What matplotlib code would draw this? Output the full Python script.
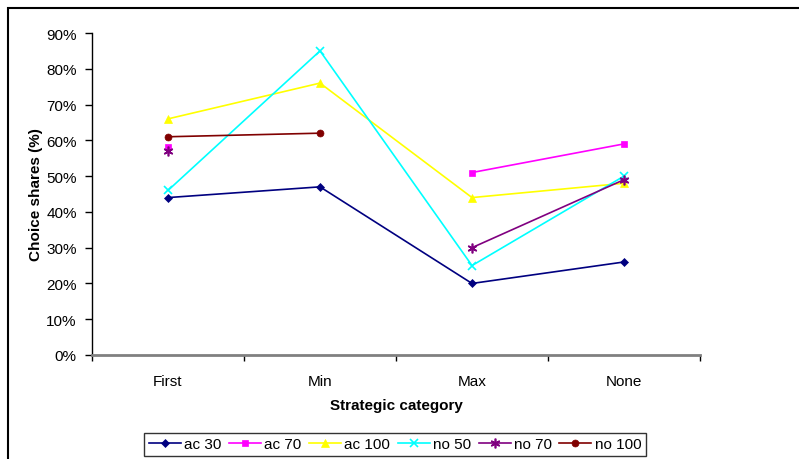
import numpy as np
import matplotlib
matplotlib.use("Agg")
import matplotlib.pyplot as plt
from matplotlib.patches import Rectangle

plt.rcParams['font.family'] = ['Liberation Sans', 'DejaVu Sans']

categories = ["First", "Min", "Max", "None"]
nan = np.nan
ac_30 = [44, 47, 20, 26]
ac_70 = [58, nan, 51, 59]
ac_100 = [66, 76, 44, 48]
no_50 = [46, 85, 25, 50]
no_70 = [57, nan, 30, 49]
no_100 = [61, 62, nan, nan]

series = [
    ("ac 30", ac_30, "#000080", "D", 4.5),
    ("ac 70", ac_70, "#FF00FF", "s", 5),
    ("ac 100", ac_100, "#FFFF00", "^", 6),
    ("no 50", no_50, "#00FFFF", "x", 6),
    ("no 70", no_70, "#800080", (6, 2, 0), 7),
    ("no 100", no_100, "#800000", "o", 5),
]

fig = plt.figure(figsize=(7.99, 4.6), dpi=100)
ax = fig.add_axes([92/799, 1-356/460, (700-92)/799, (356-34)/460])

x = np.arange(len(categories)) + 0.5
for label, vals, color, marker, ms in series:
    ax.plot(x, np.array(vals, dtype=float) / 100, color=color, marker=marker,
            markersize=ms, linewidth=1.2, label=label,
            markeredgewidth=1.2 if marker in ("x",) or isinstance(marker, tuple) else 0.5,
            markeredgecolor=color, markerfacecolor=color)

ax.set_xlim(0, 4)
ax.set_ylim(0, 0.9)
ax.set_yticks(np.arange(0, 0.91, 0.1))
ax.set_yticklabels([f"{int(round(v*100))}%" for v in np.arange(0, 0.91, 0.1)])
ax.set_xticks(np.arange(0, 5))
ax.set_xticklabels([])
ax.set_xticks(x, minor=True)
ax.set_xticklabels(categories, minor=True)
ax.tick_params(axis='x', which='minor', length=0, pad=14, labelsize=11)
ax.tick_params(axis='x', which='major', length=4, width=1, color='black', direction='out')
ax.tick_params(axis='y', length=5, width=1, direction='out', labelsize=11, pad=6)

for s in ("top", "right"):
    ax.spines[s].set_visible(False)
ax.spines["left"].set_color("black")
ax.spines["left"].set_linewidth(1)
ax.spines["bottom"].set_color("#808080")
ax.spines["bottom"].set_linewidth(2)

ax.set_ylabel("Choice shares (%)", fontsize=11, fontweight="bold", labelpad=2)
ax.set_xlabel("Strategic category", fontsize=11, fontweight="bold", labelpad=7)

leg = fig.legend(loc="center", bbox_to_anchor=(395/799, 1-445.5/460), ncol=6,
                 frameon=True, fancybox=False, edgecolor="black", fontsize=11,
                 handlelength=2.1, handletextpad=0.2, columnspacing=0.5,
                 borderpad=0.3, borderaxespad=0)
leg.get_frame().set_linewidth(1)

fig.patches.append(Rectangle((8/799, -0.1), 1.2, 1 - 9/460 + 0.1,
                             transform=fig.transFigure, fill=False,
                             edgecolor="black", linewidth=1.5))

fig.savefig("out.png", dpi=100)
